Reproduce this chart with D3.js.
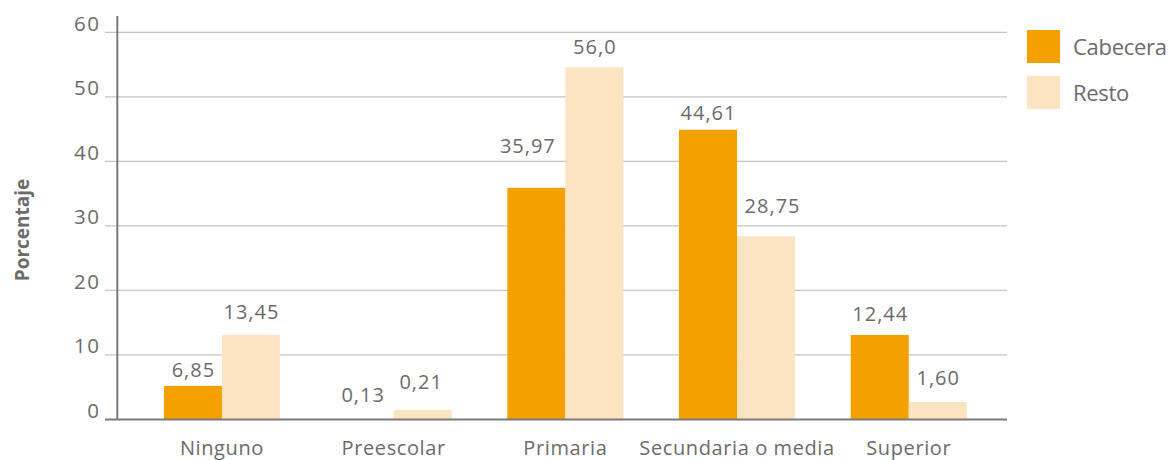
<!DOCTYPE html>
<html><head><meta charset="utf-8">
<script src="https://cdn.jsdelivr.net/npm/d3@7"></script>
<style>
body{margin:0;background:#fff;}
svg text{font-family:"Open Sans",sans-serif;fill:#6b6b6b;}
</style></head>
<body><svg id="c" width="1174" height="460"></svg>
<script>
// ---- data ----
const categories = ["Ninguno","Preescolar","Primaria","Secundaria o media","Superior"];
const seriesNames = ["Cabecera","Resto"];
const cabecera = [5.2, 0, 35.9, 44.9, 13.1];
const resto = [13.1, 1.5, 54.6, 28.4, 2.7];
const cabeceraLabels = ["6,85","0,13","35,97","44,61","12,44"];
const restoLabels = ["13,45","0,21","56,0","28,75","1,60"];
const yTicks = [0,10,20,30,40,50,60];
const yTitle = "Porcentaje";

// ---- styles / layout ----
const colors = {Cabecera:"#F4A000", Resto:"#FCE3C1"};
const FONT = '"Open Sans",sans-serif';
const svg = d3.select("#c");
const y = d3.scaleLinear().domain([0,60]).range([419.5,32.3]);
const x0 = d3.scaleBand().domain(categories).range([136.1,994.6]).paddingInner(0.324).paddingOuter(0.162);
const x1 = d3.scaleBand().domain(seriesNames).range([0,x0.bandwidth()]);

// gridlines
svg.append("g").selectAll("line").data(yTicks.filter(d=>d>0)).join("line")
  .attr("x1",105).attr("x2",1007).attr("y1",d=>y(d)).attr("y2",d=>y(d))
  .attr("stroke","#c4c4c4").attr("stroke-width",1.3);

// y tick labels
const yAxis = d3.axisLeft(y).tickValues(yTicks).tickSize(0).tickPadding(0);
const ya = svg.append("g").attr("transform","translate(100.5,0)").call(yAxis);
ya.select(".domain").remove();
ya.selectAll("text").attr("dy","-0.1em").style("font-size","20.5px").style("letter-spacing","1.5px")
  .attr("fill","#6b6b6b").style("font-family",FONT);

// bars
const data = categories.map((c,i)=>({c, vals:[
  {s:"Cabecera", v:cabecera[i], t:cabeceraLabels[i]},
  {s:"Resto", v:resto[i], t:restoLabels[i]}]}));
const g = svg.append("g").selectAll("g").data(data).join("g")
  .attr("transform",d=>`translate(${x0(d.c)},0)`);
g.selectAll("rect").data(d=>d.vals).join("rect")
  .attr("x",d=>x1(d.s)).attr("width",x1.bandwidth())
  .attr("y",d=>y(d.v)).attr("height",d=>y(0)-y(d.v))
  .attr("fill",d=>colors[d.s]);

// value labels (gap above bar top, small nudges as in the reference)
const gap = {"6,85":9,"13,45":16,"0,13":18,"0,21":21,"35,97":35,"56,0":13,"44,61":10,"28,75":23,"12,44":14,"1,60":17};
const nudge = {"35,97":-9,"28,75":6,"0,13":-2,"0,21":-2};
g.selectAll("text.v").data(d=>d.vals).join("text").attr("class","v")
  .attr("x",d=>x1(d.s)+x1.bandwidth()/2+(nudge[d.t]||0)+0.5)
  .attr("y",d=>y(d.v)-gap[d.t])
  .attr("text-anchor","middle").style("font-size","20px").style("letter-spacing","1px").text(d=>d.t);

// axes lines
svg.append("line").attr("x1",105).attr("x2",1007).attr("y1",y(0)).attr("y2",y(0))
  .attr("stroke","#7a7a7a").attr("stroke-width",2);
svg.append("line").attr("x1",117.3).attr("x2",117.3).attr("y1",16).attr("y2",y(0))
  .attr("stroke","#7a7a7a").attr("stroke-width",2);

// x category labels
const xAxis = d3.axisBottom(x0).tickSize(0).tickPadding(0);
const xa = svg.append("g").attr("transform","translate(0,440)").call(xAxis);
xa.select(".domain").remove();
xa.selectAll("text").attr("dy","0.75em").style("font-size","20px").style("letter-spacing","0.6px")
  .attr("fill","#6b6b6b").style("font-family",FONT);

// y title
svg.append("text").attr("transform","translate(29,230) rotate(-90)")
  .attr("text-anchor","middle").style("font-size","19px").style("font-weight","bold").text(yTitle);

// legend
const lg = svg.append("g").selectAll("g").data(seriesNames).join("g")
  .attr("transform",(d,i)=>`translate(1027,${30+i*46})`);
lg.append("rect").attr("width",33).attr("height",33).attr("fill",d=>colors[d]);
lg.append("text").attr("x",46).attr("y",25).style("font-size","22px").style("letter-spacing","-0.3px").text(d=>d);
</script></body></html>
